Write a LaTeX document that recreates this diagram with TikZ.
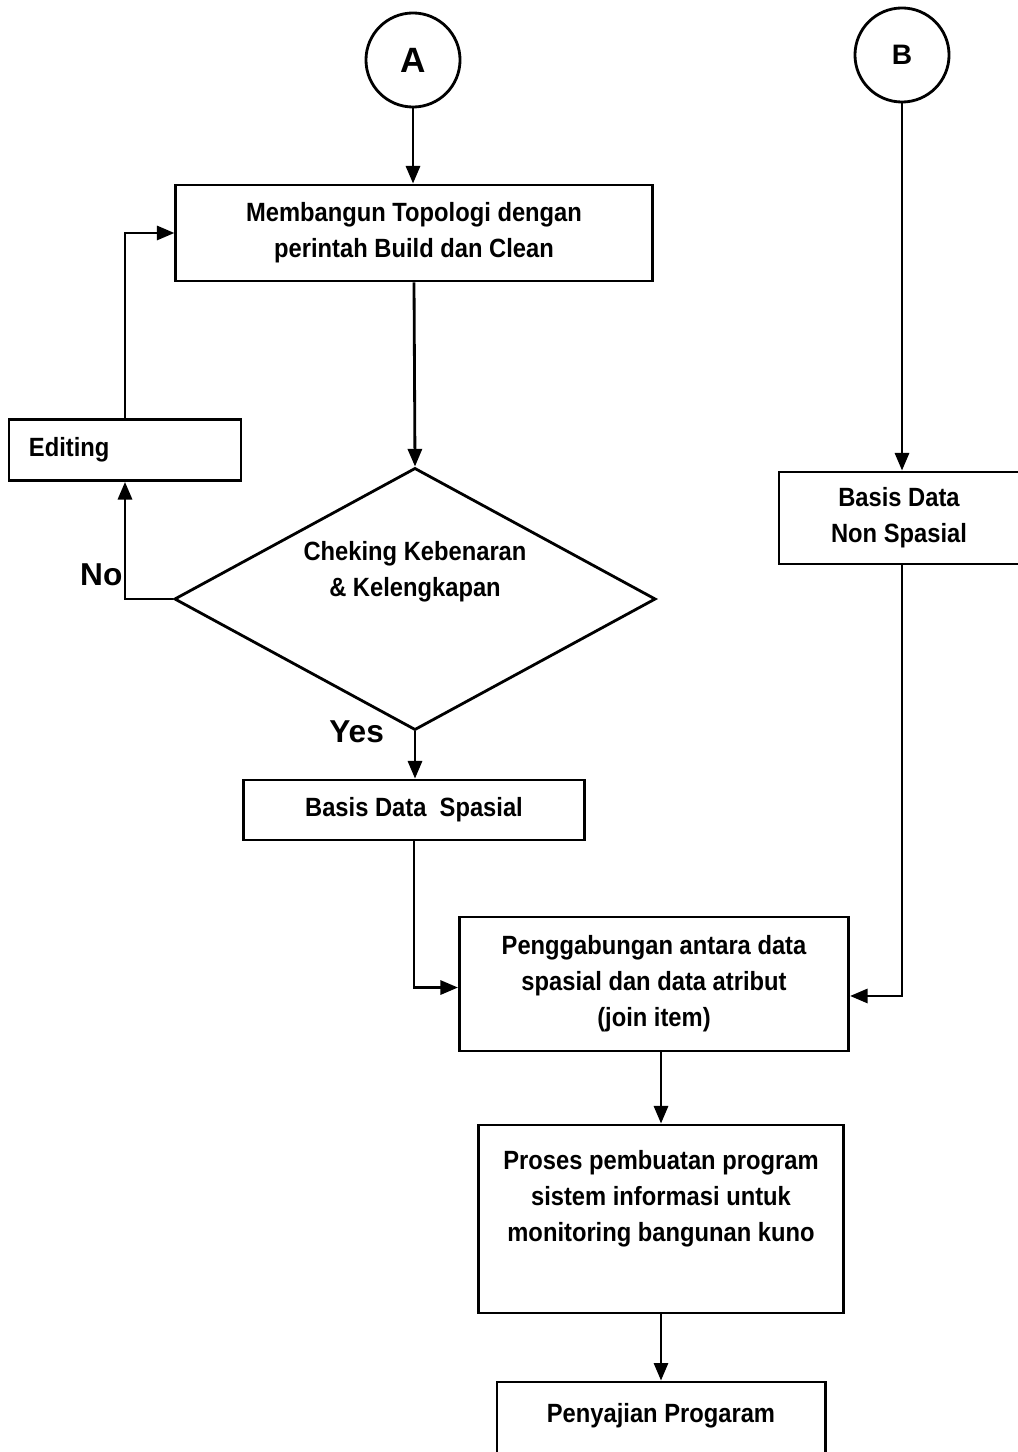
\documentclass[tikz,border=0pt]{standalone}
\usepackage{fontspec}
\setmainfont{Liberation Sans}
\newfontfamily\boxfont{Liberation Sans}[FakeStretch=0.9]
\usetikzlibrary{shapes.geometric}
\usetikzlibrary{positioning}
\usetikzlibrary{arrows.meta}

\begin{document}
\begin{tikzpicture}
[every node/.style={font=\boxfont\bfseries\fontsize{7.5}{10.2}\selectfont},x=0.01cm,y=-0.01cm,
line width=0.8pt,
flowarrow/.style = {-{Triangle[length=5pt,width=4pt]}},
  c/.style = {circle,draw,minimum size=0.94cm,inner sep=0pt,
        font=\bfseries\fontsize{10}{12}\selectfont},
  r/.style = {rectangle,draw,align=center,inner sep=0pt},
  d/.style = {diamond,draw,inner sep=0pt,minimum width=4.81cm,
        minimum height=2.62cm},
  lbl/.style = {font=\bfseries\fontsize{9}{11}\selectfont}]
%\draw[help lines] (0,0) grid[step=100] (1017,1452);

\useasboundingbox (0,0) rectangle (1017,1452);

\node[c] (A) at (413,60) {A};
   \node[c,font=\bfseries\fontsize{8}{10}\selectfont] (B) at (902,55) {B};

   \node[r,minimum width=4.76cm,minimum height=0.96cm] (topo) at (414,233)
      {Membangun Topologi dengan\\perintah Build dan Clean};
   \node[r,minimum height=0.61cm,text width=1.92cm,inner xsep=0.2cm,align=left] (edit) at (125,450) {Editing};
   \node[d] (chk) at (415,599) {};
   \node[align=center] (chktext) at (415,572) {Cheking Kebenaran\\\& Kelengkapan};
   \node[r,minimum width=3.40cm,minimum height=0.60cm] (spas) at (414,810) {Basis Data\ \ Spasial};
   \node[r,minimum width=2.40cm,minimum height=0.92cm] (nonsp) at (899,518) {Basis Data\\Non Spasial};
   \node[r,minimum width=3.89cm,minimum height=1.34cm] (gab) at (654,984)
      {Penggabungan antara data\\spasial dan data atribut\\(join item)};
   \node[r,minimum width=3.64cm,minimum height=1.88cm,
      label={[anchor=north,align=center,yshift=-0.14cm]north:Proses pembuatan program\\sistem informasi untuk\\monitoring bangunan kuno}] (pro) at (661,1219) {};
   \node[r,minimum width=3.28cm,minimum height=0.80cm,
      label={[anchor=north,yshift=-0.1cm]north:Penyajian Progaram}] (saji) at (661,1422) {};

   \draw[flowarrow] (A) -- (topo.north -| A);
   \draw[flowarrow] (topo.south) -- (chk.north);
   \draw[flowarrow] (chk.west) -| node[lbl,pos=0.5,anchor=south east,xshift=3pt] {No} (edit.south);
   \draw[flowarrow] (edit.north) |- (topo.west);
   \draw[flowarrow] (chk.south) -- node[lbl,pos=0,left=0.18cm] {Yes} (spas.north -| chk.south);
   \draw[flowarrow] (spas.south) |- ([yshift=-1pt]gab.west);
   \draw[flowarrow] (B) -- (nonsp.north -| B);
   \draw[flowarrow] (nonsp.south -| B) |- ([yshift=-3.4pt]gab.east);
   \draw[flowarrow] (gab.south -| pro.north) -- (pro.north);
   \draw[flowarrow] (pro.south) -- (saji.north);
\end{tikzpicture}
\end{document}
